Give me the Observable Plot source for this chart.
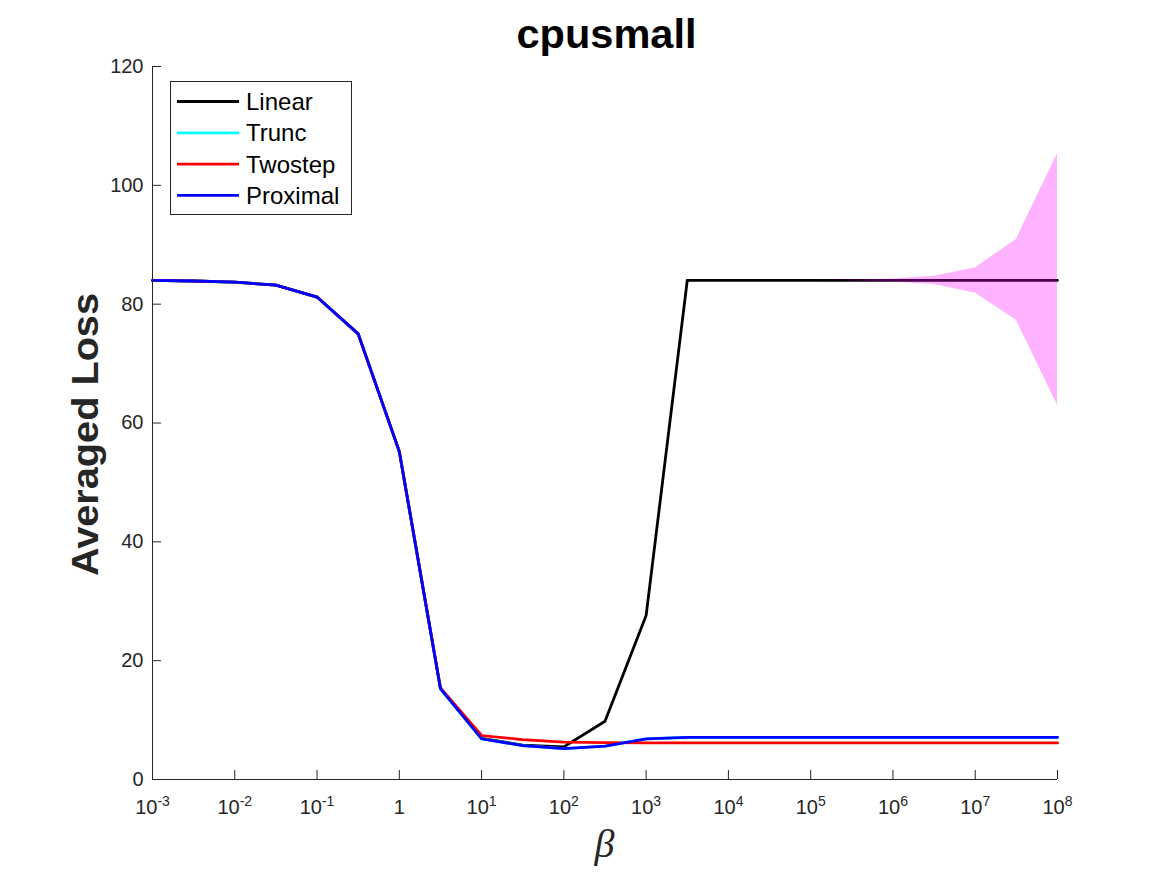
<!DOCTYPE html>
<html>
<head>
<meta charset="utf-8">
<script src="https://cdn.jsdelivr.net/npm/d3@7"></script>
<script src="https://cdn.jsdelivr.net/npm/@observablehq/plot@0.6"></script>
<style>
  html, body { margin: 0; padding: 0; background: #fff; }
  #chart { width: 1167px; height: 875px; }
</style>
</head>
<body>
<div id="chart"></div>
<script>
// beta grid (log10 exponents, half-decade steps)
const betaExp = [-3, -2.5, -2, -1.5, -1, -0.5, 0, 0.5, 1, 1.5, 2, 2.5, 3, 3.5, 4, 4.5, 5, 5.5, 6, 6.5, 7, 7.5, 8];

// averaged loss per method
const linearLoss   = [84.0, 83.9, 83.7, 83.2, 81.2, 75.0, 55.2, 15.3, 6.9, 5.8, 5.5, 9.8, 27.6, 84.0, 84.0, 84.0, 84.0, 84.0, 84.0, 84.0, 84.0, 84.0, 84.0];
const truncLoss    = [84.0, 83.9, 83.7, 83.2, 81.2, 75.0, 55.2, 15.3, 6.85, 5.7, 5.2, 5.6, 6.85, 7.1, 7.1, 7.1, 7.1, 7.1, 7.1, 7.1, 7.1, 7.1, 7.1];
const twostepLoss  = [84.0, 83.9, 83.7, 83.2, 81.2, 75.0, 55.2, 15.4, 7.4, 6.7, 6.3, 6.2, 6.15, 6.15, 6.15, 6.15, 6.15, 6.15, 6.15, 6.15, 6.15, 6.15, 6.15];
const proximalLoss = [84.0, 83.9, 83.7, 83.2, 81.2, 75.0, 55.2, 15.3, 6.85, 5.7, 5.2, 5.6, 6.85, 7.1, 7.1, 7.1, 7.1, 7.1, 7.1, 7.1, 7.1, 7.1, 7.1];

// spread band around the Linear curve at large beta
const bandExp = [5, 5.5, 6, 6.5, 7, 7.5, 8];
const bandLo  = [84.0, 83.95, 83.75, 83.3, 81.9, 77.3, 63.0];
const bandHi  = [84.0, 84.05, 84.25, 84.7, 86.1, 90.9, 105.3];

const seriesNames  = ["Linear", "Trunc", "Twostep", "Proximal"];
const seriesColors = ["#000000", "#00ffff", "#ff0000", "#0000ff"];
const seriesValues = [linearLoss, truncLoss, twostepLoss, proximalLoss];

// axis ticks
const xTickExp = [-3, -2, -1, 0, 1, 2, 3, 4, 5, 6, 7, 8];
const yTicks = [0, 20, 40, 60, 80, 100, 120];

const titleText = "cpusmall";
const yLabelText = "Averaged Loss";
const xLabelText = "\u03B2";

const xTicks = xTickExp.map(e => Math.pow(10, e));
const rows = seriesNames.map((name, i) =>
  betaExp.map((e, j) => ({method: name, beta: Math.pow(10, e), loss: seriesValues[i][j]}))
);
const band = bandExp.map((e, j) => ({beta: Math.pow(10, e), lo: bandLo[j], hi: bandHi[j]}));

const W = 1167, H = 875;
const mL = 152, mR = 110, mT = 66, mB = 96;
const plotW = W - mL - mR, plotH = H - mT - mB;
const tickLen = 9;
const axisColor = "#262626";
const sans = "'Liberation Sans', Arial, Helvetica, sans-serif";

const plot = Plot.plot({
  width: W,
  height: H,
  marginLeft: mL, marginRight: mR, marginTop: mT, marginBottom: mB,
  style: {fontFamily: sans, fontSize: "20px", color: axisColor, background: "#fff"},
  x: {type: "log", domain: [1e-3, 1e8]},
  y: {domain: [0, 120]},
  marks: [
    // data curves, drawn in legend order so Proximal sits on top
    ...rows.map((data, i) => Plot.line(data, {
      x: "beta", y: "loss", stroke: seriesColors[i], strokeWidth: 2.8,
      strokeLinejoin: "miter", strokeMiterlimit: 4
    })),
    // shaded spread
    Plot.areaY(band, {x: "beta", y1: "lo", y2: "hi", fill: "#ff00ff", fillOpacity: 0.3}),
    // axis lines (left and bottom only)
    Plot.ruleY([0], {stroke: axisColor, strokeWidth: 1}),
    Plot.ruleX([1e-3], {stroke: axisColor, strokeWidth: 1}),
    // inward-pointing ticks
    Plot.ruleX(xTicks, {stroke: axisColor, strokeWidth: 1, insetTop: plotH - tickLen}),
    Plot.ruleY(yTicks, {stroke: axisColor, strokeWidth: 1, insetRight: plotW - tickLen}),
    // tick labels
    Plot.axisX(xTicks, {
      tickSize: 0, tickPadding: 20, fontSize: 20, label: null, fill: axisColor,
      tickFormat: d => { const e = Math.round(Math.log10(d)); return e === 0 ? "1" : "10^" + e; }
    }),
    Plot.axisY(yTicks, {tickSize: 0, tickPadding: 9, fontSize: 20, label: null, fill: axisColor})
  ]
});

const svg = d3.select(plot);

// superscript exponents on the x tick labels
svg.selectAll('g[aria-label="x-axis tick label"] text').each(function() {
  const t = d3.select(this);
  const s = t.text();
  if (s.indexOf("^") < 0) return;
  const [base, exp] = s.split("^");
  t.text(null);
  t.append("tspan").text(base);
  t.append("tspan").attr("dy", "-8").attr("font-size", 14).text(exp);
});

const xs = plot.scale("x"), ys = plot.scale("y");
const cx = (xs.apply(1e-3) + xs.apply(1e8)) / 2;
const cy = (ys.apply(0) + ys.apply(120)) / 2;

// title
svg.append("text")
  .attr("x", cx + 2).attr("y", 48)
  .attr("text-anchor", "middle")
  .attr("font-family", sans).attr("font-weight", "bold").attr("font-size", 40)
  .attr("fill", "#000")
  .attr("textLength", 180).attr("lengthAdjust", "spacingAndGlyphs")
  .text(titleText);

// y label
svg.append("text")
  .attr("transform", `translate(98,${cy + 12}) rotate(-90)`)
  .attr("text-anchor", "middle")
  .attr("font-family", sans).attr("font-weight", "bold").attr("font-size", 36)
  .attr("fill", axisColor)
  .attr("textLength", 283).attr("lengthAdjust", "spacingAndGlyphs")
  .text(yLabelText);

// x label
svg.append("text")
  .attr("x", cx).attr("y", 857)
  .attr("text-anchor", "middle")
  .attr("font-family", "'Liberation Serif', 'Times New Roman', serif")
  .attr("font-style", "italic").attr("font-size", 40)
  .attr("fill", axisColor)
  .text(xLabelText);

// legend
const lg = svg.append("g").attr("aria-label", "legend");
lg.append("rect")
  .attr("x", 170.5).attr("y", 81.5).attr("width", 181).attr("height", 133)
  .attr("fill", "#fff").attr("stroke", axisColor).attr("stroke-width", 1);
seriesNames.forEach((name, i) => {
  const yy = 101.5 + i * 31.3;
  lg.append("line")
    .attr("x1", 177).attr("x2", 239).attr("y1", yy).attr("y2", yy)
    .attr("stroke", seriesColors[i]).attr("stroke-width", 2.8);
  lg.append("text")
    .attr("x", 246).attr("y", yy).attr("dy", "0.36em")
    .attr("text-anchor", "start")
    .attr("font-family", sans).attr("font-size", 24).attr("fill", "#000")
    .text(name);
});

document.getElementById("chart").appendChild(plot);
</script>
</body>
</html>
